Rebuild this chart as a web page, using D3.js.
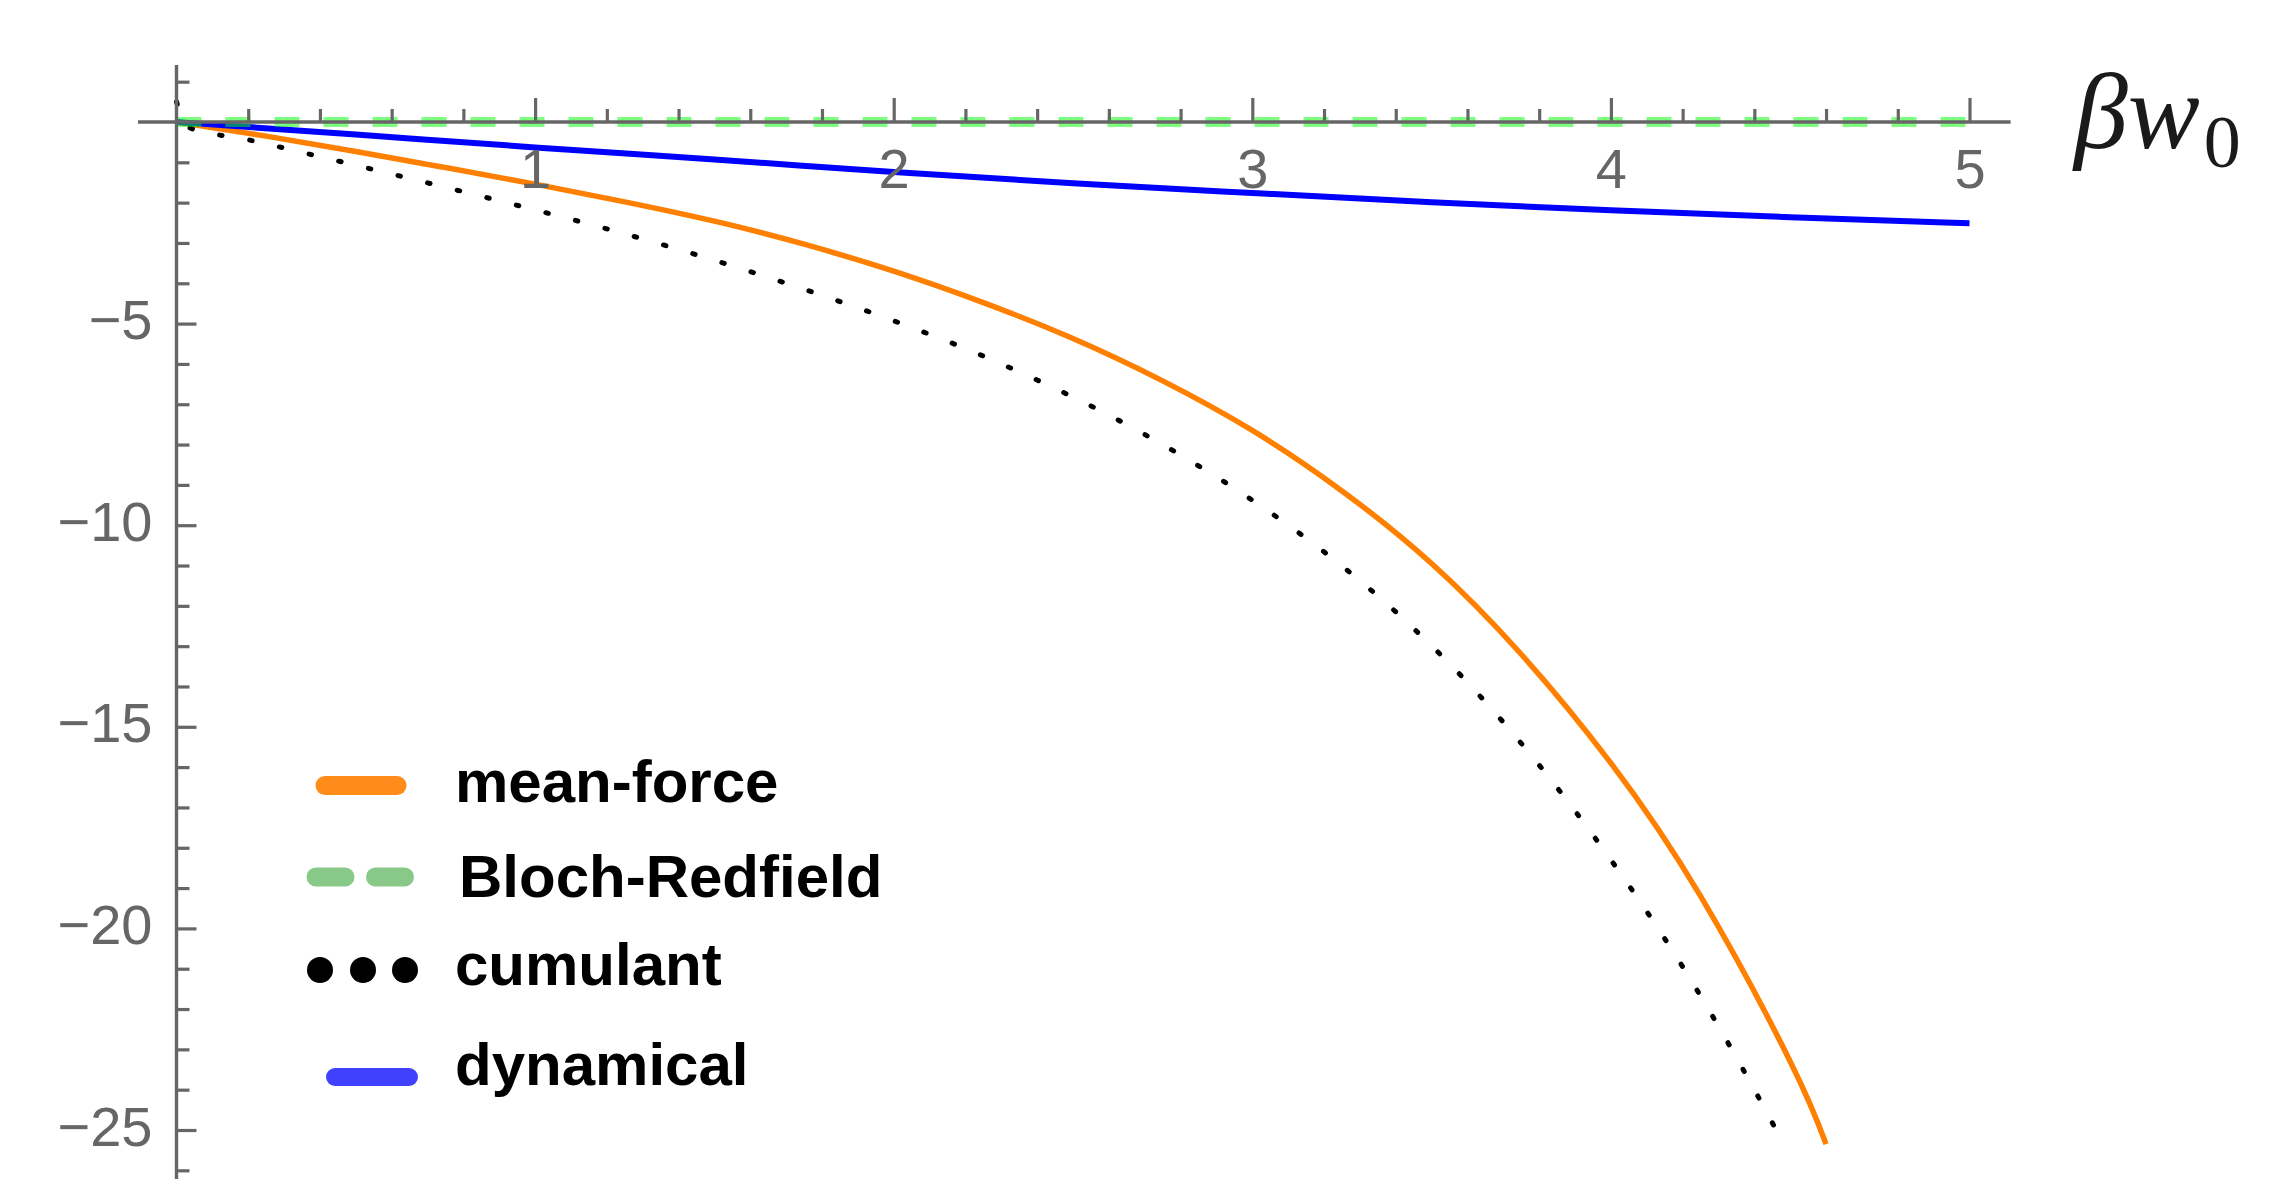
<!DOCTYPE html>
<html><head><meta charset="utf-8">
<script src="https://cdn.jsdelivr.net/npm/d3@7"></script>
<style>html,body{margin:0;padding:0;background:#fff;} svg{display:block;}</style>
</head><body>
<svg id="chart" width="2272" height="1179"></svg>
<script>
// ---- data ----
const xMajorTicks = [1, 2, 3, 4, 5];
const xMinorTicks = [0.2,0.4,0.6,0.8,1.2,1.4,1.6,1.8,2.2,2.4,2.6,2.8,3.2,3.4,3.6,3.8,4.2,4.4,4.6,4.8];
const yMajorTicks = [-5, -10, -15, -20, -25];
const yMinorTicks = [1,-1,-2,-3,-4,-6,-7,-8,-9,-11,-12,-13,-14,-16,-17,-18,-19,-21,-22,-23,-24,-26];

const meanForceX = [0, 0.25, 0.5, 0.75, 1.0, 1.25, 1.5, 1.75, 2.0, 2.25, 2.5, 2.75, 3.0, 3.25, 3.5, 3.75, 4.0, 4.25, 4.5, 4.6];
const meanForceY = [0, -0.35, -0.73, -1.13, -1.54, -1.98, -2.46, -3.03, -3.70, -4.48, -5.37, -6.42, -7.65, -9.15, -10.95, -13.2, -15.9, -19.2, -23.3, -25.35];

const cumulantX = [0, 0.03, 0.2, 0.4, 0.6, 0.8, 1.0, 1.2, 1.4, 1.6, 1.8, 2.0, 2.2, 2.4, 2.6, 2.8, 3.0, 3.2, 3.4, 3.6, 3.8, 4.0, 4.2, 4.4, 4.47];
const cumulantY = [0.5, -0.12, -0.44, -0.86, -1.29, -1.73, -2.18, -2.65, -3.16, -3.71, -4.30, -4.93, -5.62, -6.40, -7.27, -8.26, -9.38, -10.66, -12.15, -13.9, -15.95, -18.3, -20.95, -24.0, -25.15];

const dynamicalX = [0, 0.5, 1.0, 1.5, 2.0, 2.5, 3.0, 3.5, 4.0, 4.5, 5.0];
const dynamicalY = [0, -0.31, -0.63, -0.93, -1.24, -1.52, -1.76, -1.99, -2.19, -2.36, -2.51];

const blochX = [0, 1, 2, 3, 4, 5];
const blochY = [0, 0, 0, 0, 0, 0];

const legendLabels = ["mean-force", "Bloch-Redfield", "cumulant", "dynamical"];

// ---- drawing ----
const svg = d3.select("#chart");
svg.append("rect").attr("width", 2272).attr("height", 1179).attr("fill", "#fff");

const x = d3.scaleLinear().domain([0, 5]).range([176.5, 1969.5]);
const y = d3.scaleLinear().domain([0, -25]).range([122, 1130]);

const zip = (xs, ys) => xs.map((v, i) => [v, ys[i]]);
const smooth = d3.line().x(d => x(d[0])).y(d => y(d[1])).curve(d3.curveNatural);
const mono = d3.line().x(d => x(d[0])).y(d => y(d[1])).curve(d3.curveMonotoneX);

const plot = svg.append("g");
plot.append("path").datum(zip(meanForceX, meanForceY)).attr("d", smooth)
  .attr("fill", "none").attr("stroke", "#ff8000").attr("stroke-width", 5.5);
plot.append("path").datum(zip(cumulantX, cumulantY)).attr("d", mono)
  .attr("fill", "none").attr("stroke", "#000").attr("stroke-width", 5)
  .attr("stroke-linecap", "round").attr("stroke-dasharray", "2.5 28");
plot.append("path").datum(zip(dynamicalX, dynamicalY)).attr("d", smooth)
  .attr("fill", "none").attr("stroke", "#0000ff").attr("stroke-width", 6);
plot.append("path").datum(zip(blochX, blochY)).attr("d", smooth)
  .attr("fill", "none").attr("stroke", "rgb(0,255,0)").attr("stroke-opacity", 0.5)
  .attr("stroke-width", 10).attr("stroke-dasharray", "25 24");

// axes
const axisColor = "#666";
const tickFont = "'Liberation Sans', Arial, sans-serif";

svg.append("line").attr("x1", 138).attr("x2", 2010.6).attr("y1", y(0)).attr("y2", y(0))
  .attr("stroke", axisColor).attr("stroke-width", 3.4);
svg.append("line").attr("x1", x(0)).attr("x2", x(0)).attr("y1", 65).attr("y2", 1179)
  .attr("stroke", axisColor).attr("stroke-width", 3.4);

const gxMinor = svg.append("g").attr("transform", `translate(0,${y(0)})`)
  .call(d3.axisBottom(x).tickValues(xMinorTicks).tickSizeInner(-13).tickSizeOuter(0).tickFormat(""));
const gx = svg.append("g").attr("transform", `translate(0,${y(0)})`)
  .call(d3.axisBottom(x).tickValues(xMajorTicks).tickSizeInner(-24).tickSizeOuter(0).tickFormat(d3.format("d")));
const gyMinor = svg.append("g").attr("transform", `translate(${x(0)},0)`)
  .call(d3.axisLeft(y).tickValues(yMinorTicks).tickSizeInner(-13).tickSizeOuter(0).tickFormat(""));
const gy = svg.append("g").attr("transform", `translate(${x(0)},0)`)
  .call(d3.axisLeft(y).tickValues(yMajorTicks).tickSizeInner(-20).tickSizeOuter(0).tickFormat(d3.format("d")));

[gxMinor, gx, gyMinor, gy].forEach(g => {
  g.select(".domain").remove();
  g.selectAll(".tick line").attr("stroke", axisColor).attr("stroke-width", 3.2);
  g.selectAll(".tick text").attr("fill", axisColor).attr("font-family", tickFont).attr("font-size", 56);
});
gx.selectAll(".tick text").attr("y", 66).attr("dy", null).attr("text-anchor", "middle");
gy.selectAll(".tick text").attr("x", -24).attr("y", 15).attr("dy", null).attr("text-anchor", "end");

// axis label  βw0
const lab = svg.append("text").attr("x", 2074).attr("y", 148)
  .attr("font-family", "'Liberation Serif', 'Times New Roman', serif").attr("fill", "#1a1a1a");
lab.append("tspan").attr("font-style", "italic").attr("font-size", 108).text("βw");
lab.append("tspan").attr("font-size", 74).attr("dy", 19).attr("dx", 4).text("0");

// legend
const legendRowsY = [785.5, 877, 970, 1077];
const lg = svg.append("g");
lg.append("line").attr("x1", 325).attr("x2", 397).attr("y1", legendRowsY[0]).attr("y2", legendRowsY[0])
  .attr("stroke", "#ff8c1a").attr("stroke-width", 19).attr("stroke-linecap", "round");
[[316, 345], [375.5, 404.5]].forEach(s => {
  lg.append("line").attr("x1", s[0]).attr("x2", s[1]).attr("y1", legendRowsY[1]).attr("y2", legendRowsY[1])
    .attr("stroke", "#88c888").attr("stroke-width", 19).attr("stroke-linecap", "round");
});
[320, 363, 405].forEach(cx => {
  lg.append("circle").attr("cx", cx).attr("cy", legendRowsY[2]).attr("r", 13).attr("fill", "#000");
});
lg.append("line").attr("x1", 335).attr("x2", 409).attr("y1", legendRowsY[3]).attr("y2", legendRowsY[3])
  .attr("stroke", "#4040ff").attr("stroke-width", 18).attr("stroke-linecap", "round");

const legendBaselines = [801.5, 897, 985, 1085];
lg.selectAll("text.leg").data(legendLabels).enter().append("text")
  .attr("class", "leg")
  .attr("x", (d, i) => i === 1 ? 459 : 455)
  .attr("y", (d, i) => legendBaselines[i])
  .attr("font-family", "'Liberation Sans', Arial, sans-serif")
  .attr("font-weight", "bold").attr("font-size", 60).attr("fill", "#000")
  .text(d => d);
</script>
</body></html>
